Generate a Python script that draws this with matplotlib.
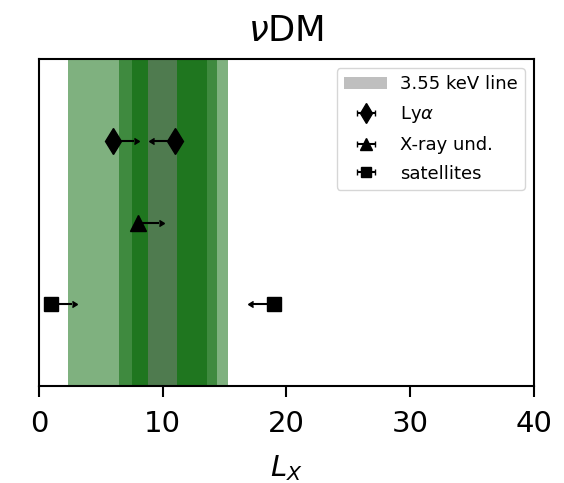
import matplotlib
matplotlib.use("Agg")
import matplotlib.pyplot as plt
from matplotlib.patches import Patch

# Shaded allowed ranges of L_X (nested bands, from widest to narrowest)
green_bands = [(2.35, 15.3), (6.45, 14.4), (7.55, 13.55)]
line_band = (8.8, 11.15)   # 3.55 keV line range

# Limits on L_X for each probe and the direction of each limit
lya_x = [6.0, 11.0]
lya_dir = ["lower", "upper"]
xray_x = [8.0]
xray_dir = ["lower"]
sat_x = [1.0, 19.0]
sat_dir = ["lower", "upper"]
arrow_len = 1.7

fig = plt.figure(figsize=(5.64, 4.83), dpi=100)
ax = fig.add_axes([0.069, 0.2008, 0.8777, 0.677])

for lo, hi in green_bands:
    ax.axvspan(lo, hi, color="darkgreen", alpha=0.5, lw=0)
ax.axvspan(*line_band, color="gray", alpha=0.5, lw=0)


def limits(xs, dirs, y, fmt, ms, label):
    for i, (x, d) in enumerate(zip(xs, dirs)):
        ax.errorbar([x], [y], xerr=arrow_len,
                    xlolims=(d == "lower"), xuplims=(d == "upper"),
                    fmt=fmt, color="k", ms=ms, lw=1.5, capsize=2.5,
                    label=label if i == 0 else None)


limits(lya_x, lya_dir, 3, "d", 13, r"Ly$\alpha$")
limits(xray_x, xray_dir, 2, "^", 11, "X-ray und.")
limits(sat_x, sat_dir, 1, "s", 10, "satellites")

ax.set_xlim(0, 40)
ax.set_ylim(0, 4)
ax.set_yticks([])
ax.set_xticks([0, 10, 20, 30, 40])
ax.tick_params(axis="x", labelsize=21, length=8, width=1.5, pad=9)
for s in ax.spines.values():
    s.set_linewidth(1.5)

ax.set_xlabel(r"$L_X$", fontsize=21, labelpad=11)
ax.set_title(r"$\nu$DM", fontsize=25.5, pad=13)

handles, labels = ax.get_legend_handles_labels()
handles = [Patch(color="gray", alpha=0.5, lw=0)] + handles
labels = ["3.55 keV line"] + labels
ax.legend(handles, labels, loc="upper right", fontsize=13, markerscale=0.75,
          handlelength=2.4, handletextpad=0.7, labelspacing=0.6)

fig.savefig("out.png", dpi=100)
